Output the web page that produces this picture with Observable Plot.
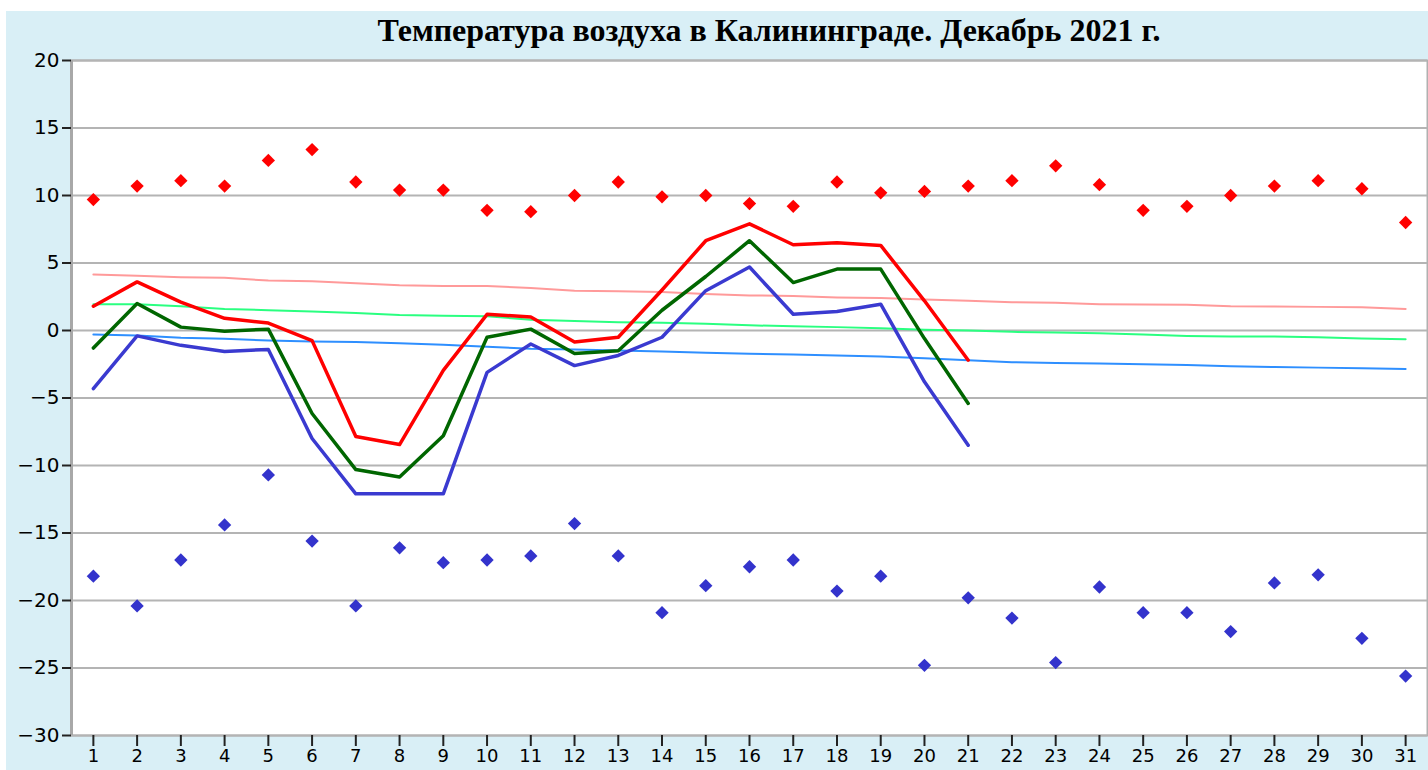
<!DOCTYPE html>
<html>
<head>
<meta charset="utf-8">
<script src="https://cdn.jsdelivr.net/npm/d3@7"></script>
<script src="https://cdn.jsdelivr.net/npm/@observablehq/plot@0.6"></script>
<style>
  body { margin:0; background:#fff; }
  #wrap { position:absolute; left:6px; top:11px; width:1422px; height:759px; background:#d9eff6; overflow:hidden; }
  #title { position:absolute; left:763px; top:3px; transform:translateX(-50%); white-space:nowrap; line-height:32px;
           font-family:"Liberation Serif","Times New Roman",serif; font-weight:bold; font-size:32px; color:#000; }
  #chart { position:absolute; left:0; top:36px; }
</style>
</head>
<body>
<div id="wrap">
  <div id="title">Температура воздуха в Калининграде. Декабрь 2021 г.</div>
  <div id="chart"></div>
</div>
<script>
const days = d3.range(1, 32);
const yTicks = [-30, -25, -20, -15, -10, -5, 0, 5, 10, 15, 20];

// absolute maximum (red diamonds)
const absMax = [9.7, 10.7, 11.1, 10.7, 12.6, 13.4, 11.0, 10.4, 10.4, 8.9, 8.8, 10.0, 11.0, 9.9, 10.0, 9.4,
                9.2, 11.0, 10.2, 10.3, 10.7, 11.1, 12.2, 10.8, 8.9, 9.2, 10.0, 10.7, 11.1, 10.5, 8.0];
// absolute minimum (blue diamonds)
const absMin = [-18.2, -20.4, -17.0, -14.4, -10.7, -15.6, -20.4, -16.1, -17.2, -17.0, -16.7, -14.3, -16.7, -20.9,
                -18.9, -17.5, -17.0, -19.3, -18.2, -24.8, -19.8, -21.3, -24.6, -19.0, -20.9, -20.9, -22.3, -18.7,
                -18.1, -22.8, -25.6];
// observed daily max / mean / min, days 1..21
const dayMax  = [1.8, 3.6, 2.1, 0.9, 0.55, -0.75, -7.85, -8.45, -2.95, 1.2, 1.0, -0.85, -0.5, 3.0, 6.65, 7.9,
                 6.35, 6.5, 6.3, 2.2, -2.2];
const dayMean = [-1.3, 2.0, 0.25, -0.05, 0.1, -6.15, -10.3, -10.85, -7.8, -0.5, 0.1, -1.7, -1.5, 1.5, 4.0, 6.65,
                 3.55, 4.55, 4.55, -0.6, -5.4];
const dayMin  = [-4.3, -0.4, -1.1, -1.55, -1.4, -8.0, -12.1, -12.1, -12.1, -3.1, -1.0, -2.6, -1.85, -0.5, 2.95,
                 4.7, 1.2, 1.4, 1.95, -3.8, -8.5];
// climate norms
const normMax  = [4.15, 4.05, 3.95, 3.9, 3.7, 3.65, 3.5, 3.35, 3.3, 3.3, 3.15, 2.95, 2.9, 2.85, 2.7, 2.6, 2.55,
                  2.45, 2.4, 2.3, 2.2, 2.1, 2.05, 1.95, 1.92, 1.9, 1.8, 1.78, 1.75, 1.72, 1.6];
const normMean = [1.95, 1.95, 1.8, 1.6, 1.5, 1.4, 1.3, 1.15, 1.1, 1.05, 0.8, 0.7, 0.62, 0.57, 0.5, 0.38, 0.32,
                  0.25, 0.17, 0.05, 0.0, -0.1, -0.15, -0.2, -0.3, -0.4, -0.45, -0.45, -0.5, -0.6, -0.65];
const normMin  = [-0.3, -0.37, -0.54, -0.62, -0.74, -0.81, -0.86, -0.94, -1.06, -1.2, -1.36, -1.41, -1.48, -1.56,
                  -1.65, -1.73, -1.78, -1.85, -1.93, -2.05, -2.2, -2.35, -2.4, -2.45, -2.5, -2.55, -2.65, -2.7,
                  -2.75, -2.8, -2.85];

const toRows = arr => arr.map((v, i) => ({day: days[i], v}));

const chart = Plot.plot({
  width: 1422,
  height: 723,
  marginTop: 13,
  marginLeft: 65,
  marginRight: 1,
  marginBottom: 35,
  style: {background: "transparent", fontFamily: "DejaVu Sans, sans-serif", fontSize: "20px", color: "#000"},
  x: {domain: [0.5, 31.5], label: null},
  y: {domain: [-30, 20], label: null},
  marks: [
    Plot.frame({fill: "white", stroke: "#b0b0b0", strokeWidth: 2}),
    Plot.gridY(yTicks, {stroke: "#b4b4b4", strokeOpacity: 1, strokeWidth: 2}),
    Plot.ruleX([0.5], {stroke: "#a8a8a8", strokeWidth: 3}),
    Plot.axisY(yTicks, {tickSize: 9, tickPadding: 3, strokeWidth: 2, stroke: "#222", fontSize: 20}),
    Plot.axisX(days, {tickSize: 11, tickPadding: 3, strokeWidth: 2, stroke: "#222", fontSize: 18, tickFormat: d => String(d)}),
    Plot.line(toRows(normMax),  {x: "day", y: "v", stroke: "#ff9a9a", strokeWidth: 2}),
    Plot.line(toRows(normMean), {x: "day", y: "v", stroke: "#2aff80", strokeWidth: 2}),
    Plot.line(toRows(normMin),  {x: "day", y: "v", stroke: "#2e8fff", strokeWidth: 2}),
    Plot.line(toRows(dayMin),  {x: "day", y: "v", stroke: "#3a3ad0", strokeWidth: 3.5}),
    Plot.line(toRows(dayMean), {x: "day", y: "v", stroke: "#006600", strokeWidth: 3.5}),
    Plot.line(toRows(dayMax),  {x: "day", y: "v", stroke: "#ff0000", strokeWidth: 3.5}),
    Plot.dot(toRows(absMax), {x: "day", y: "v", symbol: "diamond2", r: 6, fill: "#ff0000", stroke: "none"}),
    Plot.dot(toRows(absMin), {x: "day", y: "v", symbol: "diamond2", r: 6, fill: "#3333cc", stroke: "none"})
  ]
});
document.getElementById("chart").appendChild(chart);
</script>
</body>
</html>
